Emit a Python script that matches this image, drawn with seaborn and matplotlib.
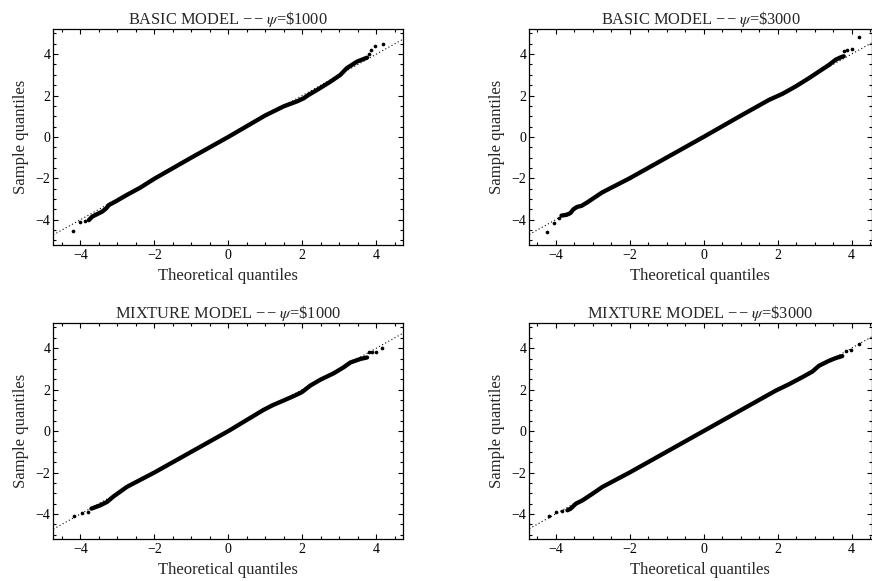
import matplotlib
matplotlib.use("Agg")
import matplotlib.pyplot as plt
import seaborn as sns
from matplotlib.ticker import MultipleLocator

sns.set_style("ticks")
plt.rcParams['font.family'] = ['Liberation Serif', 'DejaVu Serif']
plt.rcParams['mathtext.fontset'] = 'stix'

titles = ["BASIC MODEL \u2212\u200a\u2212 $\\psi$=\\$1000", "BASIC MODEL \u2212\u200a\u2212 $\\psi$=\\$3000",
          "MIXTURE MODEL \u2212\u200a\u2212 $\\psi$=\\$1000", "MIXTURE MODEL \u2212\u200a\u2212 $\\psi$=\\$3000"]
tick_values = [-4, -2, 0, 2, 4]
tick_labels = ['\u22124', '\u22122', '0', '2', '4']

# Basic model, psi = $1000
b1_band_x = [-3.77, -3.68, -3.59, -3.41, -3.30, -3.23, -3.05, -2.74, -2.38, -2.0, -1.0, 0.0, 1.0, 1.5, 1.68, 1.86, 2.04, 2.17, 2.40, 2.76, 3.03, 3.20, 3.48, 3.75]
b1_band_y = [-4.02, -3.85, -3.77, -3.61, -3.45, -3.29, -3.12, -2.80, -2.45, -2.02, -1.0, 0.0, 1.04, 1.48, 1.60, 1.72, 1.87, 2.03, 2.27, 2.67, 3.00, 3.32, 3.64, 3.83]
b1_tail_x = [-4.20, -4.00, -3.86, 3.79, 3.86, 3.97, 4.17]
b1_tail_y = [-4.53, -4.10, -4.05, 4.00, 4.20, 4.40, 4.49]

# Basic model, psi = $3000
b3_band_x = [-3.84, -3.70, -3.60, -3.52, -3.42, -3.30, -3.15, -2.74, -2.0, -1.0, 0.0, 1.0, 1.77, 2.13, 2.49, 2.85, 3.12, 3.39, 3.57, 3.70, 3.79]
b3_band_y = [-3.80, -3.76, -3.68, -3.50, -3.38, -3.33, -3.17, -2.68, -2.0, -1.0, 0.0, 1.02, 1.79, 2.08, 2.44, 2.84, 3.16, 3.48, 3.73, 3.84, 3.90]
b3_tail_x = [-4.23, -4.03, -3.91, 3.80, 3.88, 4.00, 4.20]
b3_tail_y = [-4.58, -4.18, -3.90, 4.13, 4.21, 4.23, 4.81]

# Mixture model, psi = $1000
m1_band_x = [-3.70, -3.46, -3.28, -3.10, -2.74, -2.0, -1.0, 0.0, 0.95, 1.2, 1.5, 1.77, 1.99, 2.22, 2.49, 2.85, 3.12, 3.30, 3.57, 3.75]
m1_band_y = [-3.74, -3.58, -3.42, -3.15, -2.69, -2.0, -1.0, 0.0, 1.02, 1.25, 1.48, 1.69, 1.88, 2.20, 2.48, 2.79, 3.08, 3.31, 3.48, 3.55]
m1_tail_x = [-4.16, -3.95, -3.80, 3.79, 3.88, 3.99, 4.15]
m1_tail_y = [-4.11, -3.95, -3.90, 3.82, 3.82, 3.82, 4.00]

# Mixture model, psi = $3000
m3_band_x = [-3.68, -3.59, -3.45, -3.27, -3.0, -2.73, -2.0, -1.0, 0.0, 1.0, 1.95, 2.31, 2.67, 2.94, 3.12, 3.39, 3.57, 3.75]
m3_band_y = [-3.82, -3.74, -3.50, -3.34, -3.02, -2.69, -2.0, -1.0, 0.0, 1.0, 1.95, 2.26, 2.60, 2.87, 3.15, 3.39, 3.52, 3.62]
m3_tail_x = [-4.18, -4.00, -3.82, 3.85, 3.98, 4.21]
m3_tail_y = [-4.11, -3.90, -3.85, 3.87, 3.92, 4.19]

bands = [(b1_band_x, b1_band_y), (b3_band_x, b3_band_y), (m1_band_x, m1_band_y), (m3_band_x, m3_band_y)]
tails = [(b1_tail_x, b1_tail_y), (b3_tail_x, b3_tail_y), (m1_tail_x, m1_tail_y), (m3_tail_x, m3_tail_y)]

W, H = 872, 581
fig = plt.figure(figsize=(W / 100, H / 100), dpi=100)
# [left, top, right, bottom] in pixels
boxes = [(53.3, 29.3, 403.3, 245.0), (529.3, 29.3, 871.5, 245.0),
         (53.3, 323.3, 403.3, 539.3), (529.3, 323.3, 871.5, 539.3)]
xlims = [(-4.73, 4.73), (-4.71, 4.54), (-4.73, 4.73), (-4.71, 4.54)]

for i in range(4):
    l, t, r, b = boxes[i]
    ax = fig.add_axes([l / W, 1 - b / H, (r - l) / W, (b - t) / H])
    x0, x1 = xlims[i]
    ax.plot([x0, x1], [x0, x1], color='black', lw=0.8, ls=(0, (1, 2.2)), zorder=1)
    bx, by = bands[i]
    sns.lineplot(x=bx, y=by, ax=ax, color='black', lw=3.1, sort=False,
                 estimator=None, solid_capstyle='round', solid_joinstyle='round', zorder=3)
    tx, ty = tails[i]
    sns.scatterplot(x=tx, y=ty, ax=ax, color='black', s=7, linewidth=0, zorder=3)
    ax.set_xlim(x0, x1)
    ax.set_ylim(-5.22, 5.2)
    ax.xaxis.set_minor_locator(MultipleLocator(0.5))
    ax.yaxis.set_minor_locator(MultipleLocator(0.5))
    ax.set_xticks(tick_values)
    ax.set_xticklabels(tick_labels)
    ax.set_yticks(tick_values)
    ax.set_yticklabels(tick_labels)
    ax.tick_params(which='both', direction='in', top=True, right=True, width=0.8,
                   colors='black', labelsize=10)
    ax.tick_params(axis='x', pad=3)
    ax.tick_params(axis='y', pad=2)
    ax.tick_params(which='major', length=3.5)
    ax.tick_params(which='minor', length=2)
    for s in ax.spines.values():
        s.set_linewidth(0.9)
        s.set_color('black')
    ax.set_xlabel("Theoretical quantiles", fontsize=12, labelpad=4)
    ax.set_ylabel("Sample quantiles", fontsize=12, labelpad=5)
    ax.set_title(titles[i], fontsize=11.8, pad=3)

fig.savefig("out.png", dpi=100)
